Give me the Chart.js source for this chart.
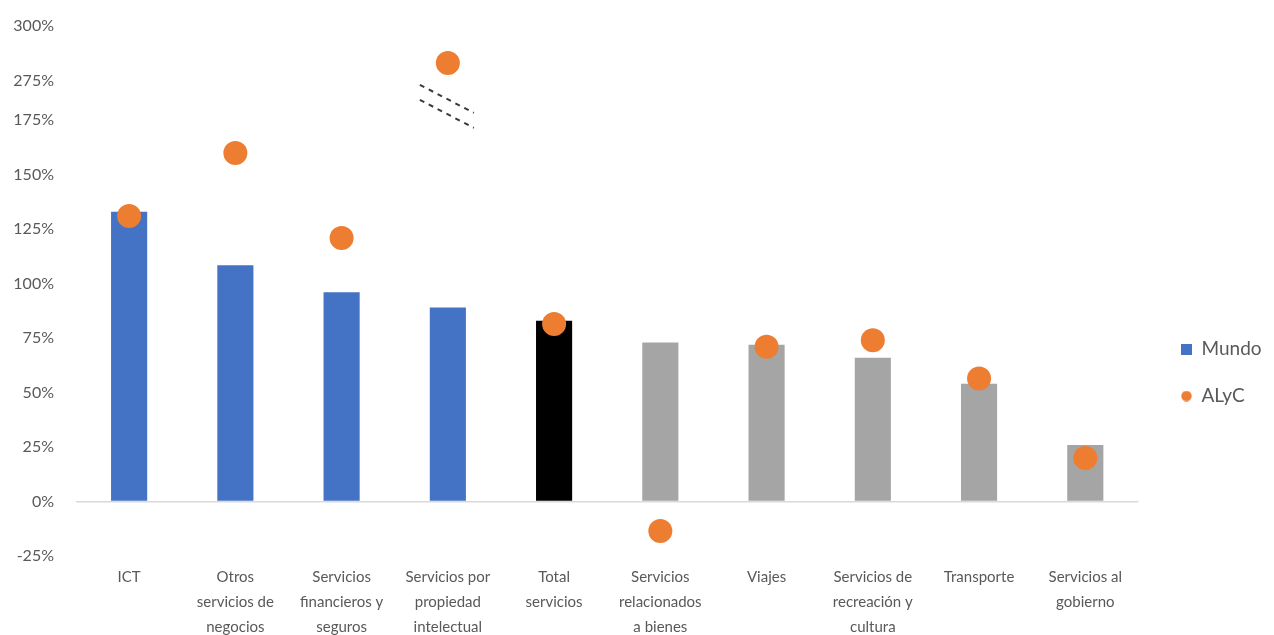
<!DOCTYPE html>
<html>
<head>
<meta charset="utf-8">
<script src="https://cdn.jsdelivr.net/npm/chart.js@4.4.1/dist/chart.umd.min.js"></script>
<style>
  html, body { margin: 0; padding: 0; background: #fff; }
  #wrap { position: relative; width: 1274px; height: 635px; }
</style>
</head>
<body>
<div id="wrap"><canvas id="chart"></canvas></div>
<script>
// categories (multi-line labels as in the original)
const categories = [
    'ICT',
    ['Otros', 'servicios de', 'negocios'],
    ['Servicios', 'financieros y', 'seguros'],
    ['Servicios por', 'propiedad', 'intelectual'],
    ['Total', 'servicios'],
    ['Servicios', 'relacionados', 'a bienes'],
    'Viajes',
    ['Servicios de', 'recreación y', 'cultura'],
    'Transporte',
    ['Servicios al', 'gobierno']
];

// growth, in %
const mundo = [133, 108.5, 96, 89, 83, 73, 72, 66, 54, 26];
const alyc = [131, 160, 121, 283, 81.5, -13.5, 71, 74, 56.5, 20];

const yTicks = [-25, 0, 25, 50, 75, 100, 125, 150, 175, 275, 300];

// broken axis: 175% .. 275% squeezed into a short gap
const BREAK_LOW = 175;
const BREAK_HIGH = 275;
const BREAK_GAP = 0.73;   // in units of one 25% step

function toAxis(v) {
    if (v <= BREAK_LOW) return v / 25;
    return BREAK_LOW / 25 + BREAK_GAP + (v - BREAK_HIGH) / 25;
}

const colors = {
    blue: '#4472C4',
    black: '#000000',
    gray: '#A5A5A5',
    orange: '#ED7D31',
    text: '#595959'
};

const barColors = categories.map((c, i) => {
    if (i < 4) return colors.blue;
    if (String(c) === 'Total,servicios') return colors.black;
    return colors.gray;
});

function marker(kind, color) {
    const c = document.createElement('canvas');
    c.width = 11;
    c.height = 11;
    const g = c.getContext('2d');
    g.fillStyle = color;
    if (kind === 'rect') {
        g.fillRect(0, 0, 11, 11);
    } else {
        g.beginPath();
        g.arc(5.5, 5.5, 5.2, 0, Math.PI * 2);
        g.fill();
    }
    return c;
}
const legendMarkers = [marker('rect', colors.blue), marker('circle', colors.orange)];

const breakMarks = {
    id: 'breakMarks',
    afterDatasetsDraw(chart) {
        const { ctx, scales: { x, y } } = chart;
        const cx = x.getPixelForValue(3) - 1;
        const cy = y.getPixelForValue(BREAK_LOW / 25 + BREAK_GAP / 2) + 6;
        ctx.save();
        ctx.strokeStyle = '#3a3a3a';
        ctx.lineWidth = 2;
        ctx.setLineDash([5, 5]);
        [-7.5, 7.5].forEach(off => {
            ctx.beginPath();
            ctx.moveTo(cx - 27, cy + off - 14);
            ctx.lineTo(cx + 27, cy + off + 14);
            ctx.stroke();
        });
        ctx.restore();
    }
};

// push the legend block to where Excel had it
const legendNudge = {
    id: 'legendNudge',
    afterLayout(chart) {
        const lg = chart.legend;
        const dx = 1181 - (lg.left + lg.options.labels.padding);
        const dy = 42;
        lg.left += dx;
        lg.right += dx;
        lg.top += dy;
        lg.bottom += dy;
    }
};

Chart.defaults.font.family = "Lato, 'Open Sans', sans-serif";
Chart.defaults.color = colors.text;

new Chart(document.getElementById('chart'), {
    data: {
        labels: categories,
        datasets: [
            {
                type: 'bar',
                label: 'Mundo',
                data: mundo.map(toAxis),
                backgroundColor: barColors,
                barPercentage: 0.34,
                categoryPercentage: 1,
                order: 1
            },
            {
                type: 'line',
                label: 'ALyC',
                data: alyc.map(toAxis),
                showLine: false,
                pointRadius: 12,
                pointHoverRadius: 12,
                pointBackgroundColor: colors.orange,
                pointBorderWidth: 0,
                clip: false,
                order: 0
            }
        ]
    },
    options: {
        responsive: true,
        maintainAspectRatio: false,
        animation: false,
        layout: { padding: { left: 0, top: 26, right: 17, bottom: 0 } },
        plugins: {
            tooltip: { enabled: false },
            legend: {
                position: 'right',
                labels: {
                    usePointStyle: true,
                    boxWidth: 11,
                    boxHeight: 11,
                    padding: 28,
                    font: { size: 19 },
                    color: colors.text,
                    generateLabels: chart => chart.data.datasets.map((ds, i) => ({
                        text: ds.label,
                        pointStyle: legendMarkers[i],
                        fillStyle: 'transparent',
                        strokeStyle: 'transparent',
                        lineWidth: 0,
                        hidden: false,
                        datasetIndex: i,
                        fontColor: colors.text
                    }))
                }
            }
        },
        scales: {
            x: {
                grid: { display: false },
                border: { display: false },
                afterFit: s => { s.height = 79; },
                ticks: {
                    autoSkip: false,
                    maxRotation: 0,
                    padding: 1,
                    font: { size: 15, lineHeight: 1.67 }
                }
            },
            y: {
                min: toAxis(-25),
                max: toAxis(300),
                border: { display: false },
                afterFit: s => {
                    s.width = 76;
                    s.paddingTop = 0;
                    s.paddingBottom = 0;
                },
                grid: {
                    drawTicks: false,
                    lineWidth: 1.5,
                    color: ctx => (ctx.tick && ctx.tick.value === 0 ? '#d9d9d9' : 'transparent')
                },
                afterBuildTicks: scale => {
                    scale.ticks = yTicks.map(v => ({ value: toAxis(v) }));
                },
                ticks: {
                    padding: 22,
                    font: { size: 16 },
                    callback: (value, index) => yTicks[index] + '%'
                }
            }
        }
    },
    plugins: [breakMarks, legendNudge]
});
</script>
</body>
</html>
